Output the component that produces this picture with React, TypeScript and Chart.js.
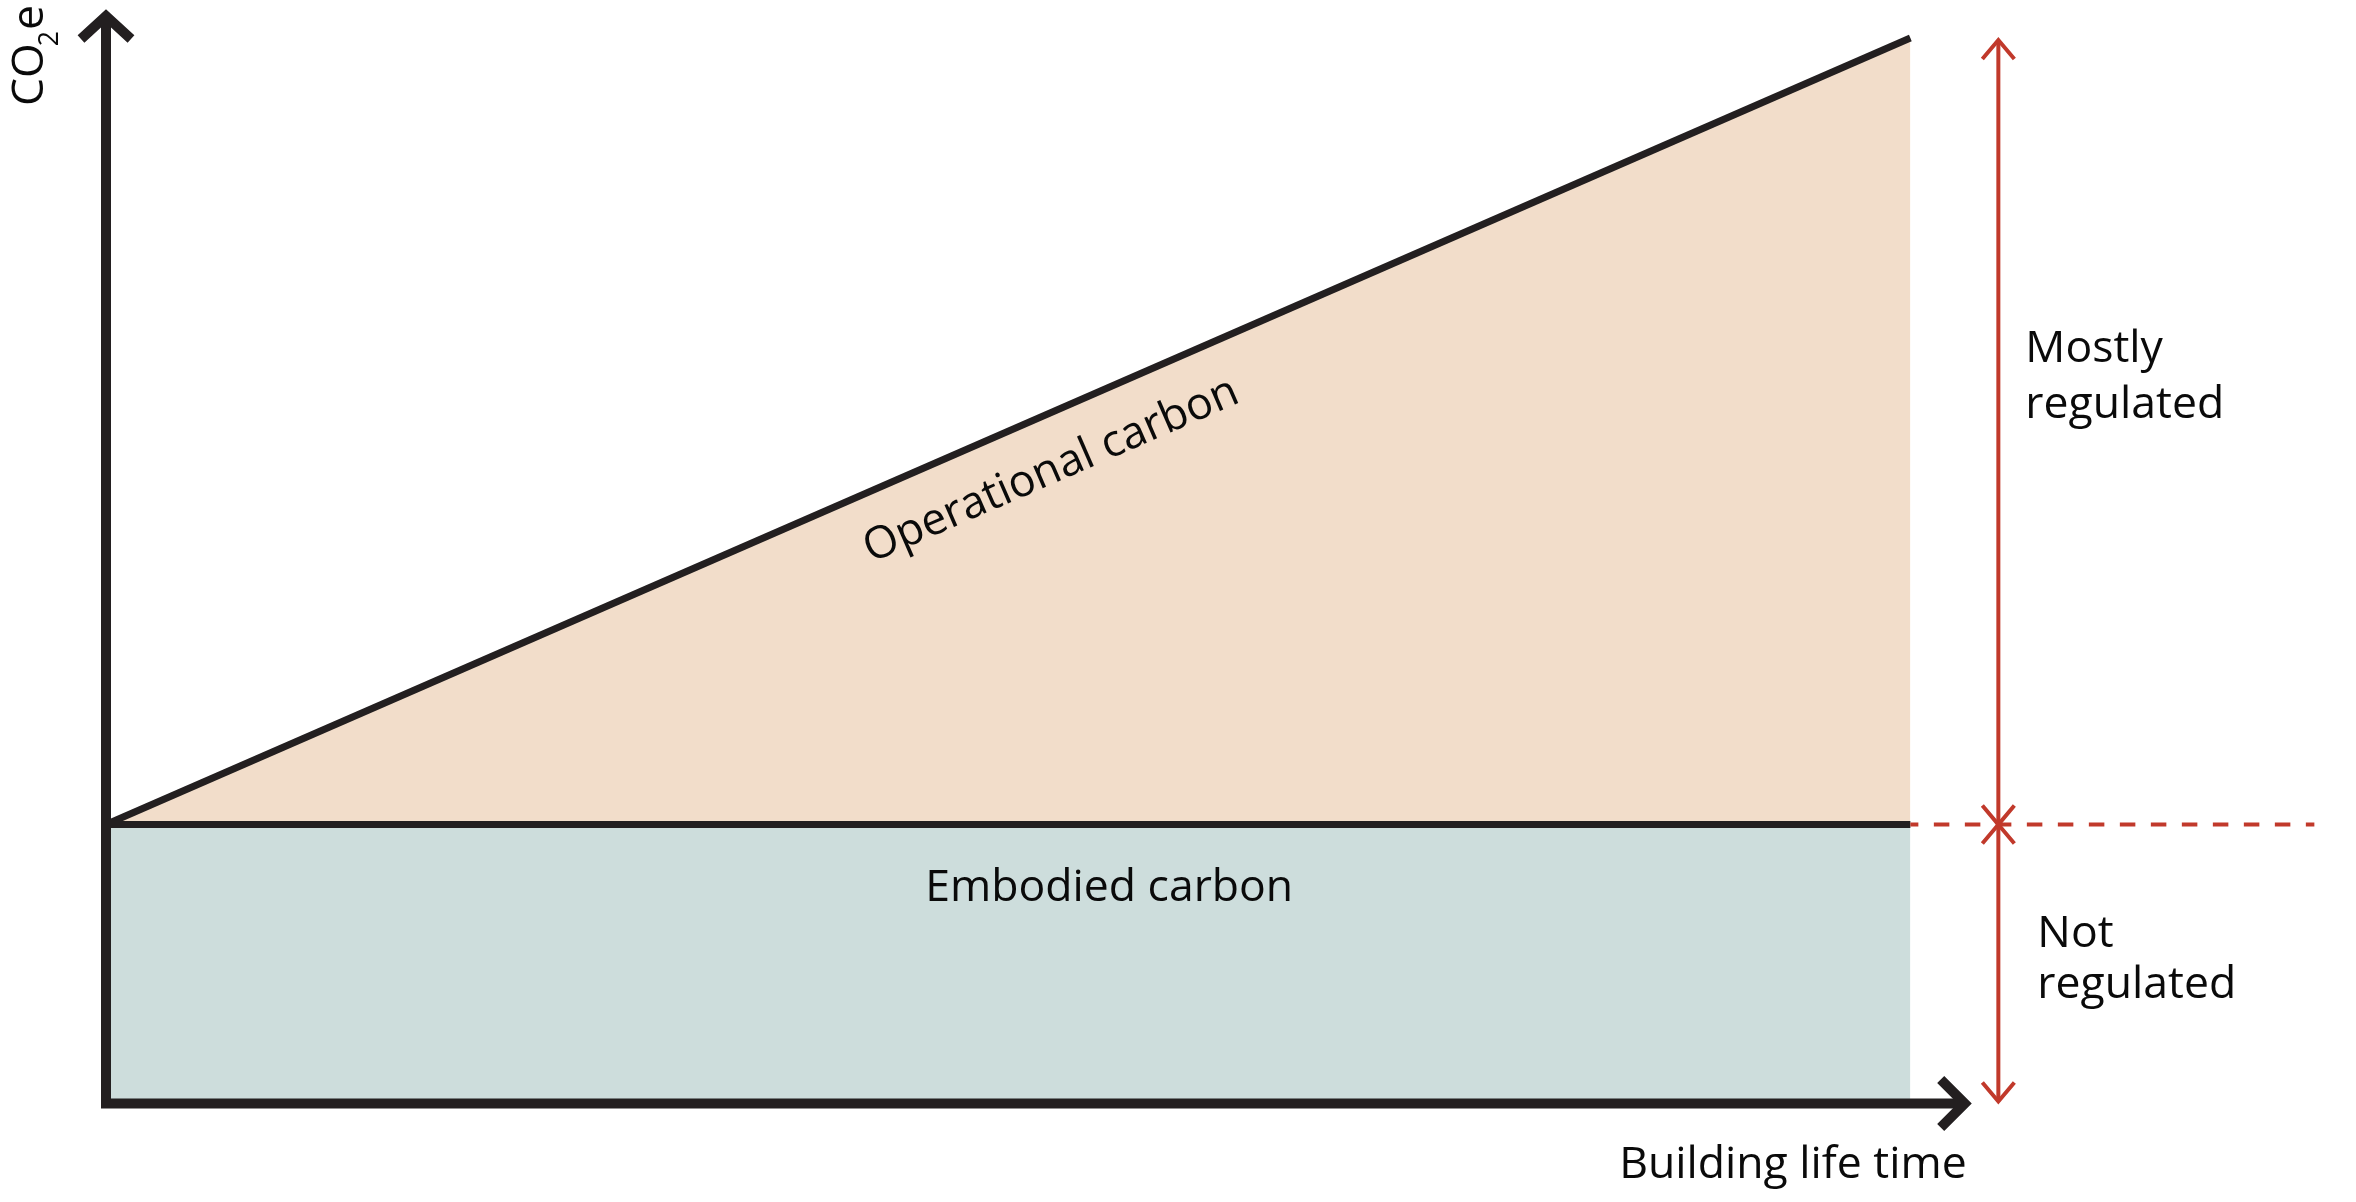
import React, { useEffect, useRef } from "react";
import { Chart, registerables } from "chart.js";

Chart.register(...registerables);

// ---- Data (relative units, conceptual diagram) ----
const lifeTime = [0, 1]; // building life time (start, end)
const embodiedCarbon = [1, 1]; // embodied CO2e, fixed at construction
const totalCarbon = [1, 3.82]; // embodied + accumulated operational CO2e
const xAxisMax = 1.034; // axis arrow runs a bit beyond the end of life
const yAxisMax = 3.924;

const seriesNames = ["Embodied carbon", "Operational carbon"];
const xTitle = "Building life time";
const yTitleParts = ["CO", "2", "e"];
const upperBracket = ["Mostly", "regulated"];
const lowerBracket = ["Not", "regulated"];

const INK = "#231f20";
const RED = "#c1392b";
const TEAL = "#cddddc";
const PEACH = "#f2ddca";
const TEXT = "#0a0a0a";
const FONT = '"Open Sans", "Noto Sans", sans-serif';

const diagramPlugin = {
  id: "diagram",
  afterDatasetsDraw(chart: any) {
    const { ctx, chartArea: ca } = chart;
    const xs = chart.scales.x;
    const ys = chart.scales.y;
    const last = lifeTime.length - 1;
    const x0 = xs.getPixelForValue(lifeTime[0]);
    const xEnd = xs.getPixelForValue(lifeTime[last]);
    const y0 = ys.getPixelForValue(0);
    const yEmb = ys.getPixelForValue(embodiedCarbon[last]);
    const yStart = ys.getPixelForValue(totalCarbon[0]);
    const yTot = ys.getPixelForValue(totalCarbon[last]);

    ctx.save();

    // font size fitted so labels have the reference's proportions
    ctx.font = `100px ${FONT}`;
    const base = ctx.measureText(seriesNames[0]).width;
    const fs = (100 * 368) / base;
    const font = (s: number) => `${s}px ${FONT}`;

    // ---- axes ----
    ctx.strokeStyle = INK;
    ctx.lineWidth = 10;
    ctx.lineJoin = "miter";
    ctx.lineCap = "butt";
    ctx.beginPath();
    ctx.moveTo(x0, ca.top + 7);
    ctx.lineTo(x0, y0);
    ctx.lineTo(ca.right - 7, y0);
    ctx.stroke();
    ctx.beginPath();
    ctx.moveTo(x0 - 25, ca.top + 7 + 23);
    ctx.lineTo(x0, ca.top + 7);
    ctx.lineTo(x0 + 25, ca.top + 7 + 23);
    ctx.stroke();
    ctx.beginPath();
    ctx.moveTo(ca.right - 7 - 24, y0 - 24);
    ctx.lineTo(ca.right - 7, y0);
    ctx.lineTo(ca.right - 7 - 24, y0 + 24);
    ctx.stroke();

    // ---- red dimension arrows ----
    const xr = xEnd + 88;
    ctx.strokeStyle = RED;
    ctx.lineWidth = 4;
    ctx.beginPath();
    ctx.moveTo(xr, yTot + 2);
    ctx.lineTo(xr, y0 - 2);
    ctx.stroke();
    const head = (tipY: number, dir: number) => {
      ctx.beginPath();
      ctx.moveTo(xr - 16, tipY + dir * 19);
      ctx.lineTo(xr, tipY);
      ctx.lineTo(xr + 16, tipY + dir * 19);
      ctx.stroke();
    };
    head(yTot + 2, 1);
    head(yEmb, -1);
    head(yEmb, 1);
    head(y0 - 2, -1);

    // dashed boundary
    ctx.setLineDash([15.5, 15.5]);
    ctx.lineDashOffset = 7.5;
    ctx.beginPath();
    ctx.moveTo(xEnd, yEmb);
    ctx.lineTo(xEnd + 404, yEmb);
    ctx.stroke();
    ctx.setLineDash([]);

    // ---- texts ----
    ctx.fillStyle = TEXT;
    ctx.font = font(fs);
    ctx.textBaseline = "alphabetic";

    // Embodied carbon
    ctx.textAlign = "center";
    ctx.fillText(seriesNames[0], x0 + (xEnd - x0) * 0.556, yEmb + 76.5);

    // Operational carbon (parallel to slope)
    const ang = Math.atan2(yTot - yStart, xEnd - x0);
    const t = 0.512;
    const px = x0 + t * (xEnd - x0);
    const py = yStart + t * (yTot - yStart);
    const nx = -Math.sin(ang);
    const ny = Math.cos(ang);
    ctx.save();
    ctx.translate(px + nx * 66, py + ny * 66);
    ctx.rotate(ang);
    ctx.fillText(seriesNames[1], 0, 0);
    ctx.restore();

    // bracket labels
    ctx.textAlign = "left";
    ctx.fillText(upperBracket[0], xEnd + 115, yTot + 324);
    ctx.fillText(upperBracket[1], xEnd + 115, yTot + 380);
    ctx.fillText(lowerBracket[0], xEnd + 127, yEmb + 122.5);
    ctx.fillText(lowerBracket[1], xEnd + 127, yEmb + 173.5);

    // x title
    ctx.textAlign = "right";
    ctx.fillText(xTitle, ca.right - 5, y0 + 74.5);

    // y title CO2e rotated
    ctx.save();
    ctx.translate(x0 - 63, ca.top + 97);
    ctx.rotate(-Math.PI / 2);
    ctx.textAlign = "left";
    ctx.font = font(fs);
    const wCO = ctx.measureText(yTitleParts[0]).width;
    ctx.fillText(yTitleParts[0], 0, 0);
    ctx.font = font(fs * 0.6);
    const w2 = ctx.measureText(yTitleParts[1]).width;
    ctx.fillText(yTitleParts[1], wCO - 3, 15);
    ctx.font = font(fs);
    ctx.fillText(yTitleParts[2], wCO - 3 + w2 + 1, 0);
    ctx.restore();

    ctx.restore();
  },
};

export default function App() {
  const ref = useRef<HTMLCanvasElement | null>(null);
  useEffect(() => {
    document.body.style.margin = "0";
    const canvas = ref.current;
    if (!canvas) return;
    const toPoints = (vals: number[]) => lifeTime.map((x, i) => ({ x, y: vals[i] }));
    const chart = new Chart(canvas, {
      type: "line",
      data: {
        datasets: [
          {
            label: seriesNames[0],
            data: toPoints(embodiedCarbon),
            fill: "origin",
            backgroundColor: TEAL,
            borderColor: INK,
            borderWidth: 7,
            pointRadius: 0,
            tension: 0,
            clip: false as any,
          },
          {
            label: seriesNames[1],
            data: toPoints(totalCarbon),
            fill: "-1",
            backgroundColor: PEACH,
            borderColor: INK,
            borderWidth: 7,
            pointRadius: 0,
            tension: 0,
            clip: false as any,
          },
        ],
      },
      options: {
        animation: false,
        responsive: false,
        devicePixelRatio: 1,
        layout: { padding: { left: 106, right: 384.3, top: 9, bottom: 98.5 } },
        scales: {
          x: { type: "linear", min: 0, max: xAxisMax, display: false },
          y: { type: "linear", min: 0, max: yAxisMax, display: false },
        },
        plugins: {
          legend: { display: false },
          tooltip: { enabled: false },
        },
      },
      plugins: [diagramPlugin],
    });
    return () => chart.destroy();
  }, []);
  return (
    <div style={{ width: 2356, height: 1202, background: "#fff" }}>
      <canvas ref={ref} width={2356} height={1202} style={{ display: "block" }} />
    </div>
  );
}
